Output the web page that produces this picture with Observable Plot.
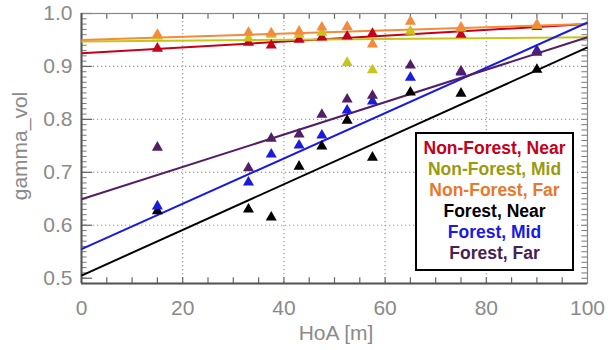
<!DOCTYPE html>
<html><head><meta charset="utf-8">
<script src="https://cdn.jsdelivr.net/npm/d3@7"></script>
<script src="https://cdn.jsdelivr.net/npm/@observablehq/plot@0.6"></script>
<style>
body{margin:0;background:#fff;}
#wrap{position:relative;width:608px;height:350px;}
#legend{position:absolute;left:415px;top:132px;width:155px;height:131px;border:2px solid #000;background:#fff;
font-family:"Liberation Sans",Arial,sans-serif;font-weight:bold;font-size:17.5px;text-align:center;line-height:21px;padding-top:4px;box-sizing:content-box;white-space:nowrap;}
</style></head>
<body><div id="wrap"><div id="legend"></div></div>
<script>
const hoa = [15, 33, 37.5, 43, 47.5, 52.5, 57.5, 65, 75, 90];
const seriesNames = ["Non-Forest, Near","Non-Forest, Mid","Non-Forest, Far","Forest, Near","Forest, Mid","Forest, Far"];
const seriesColors = ["#c4001a","#c8c418","#f58a3a","#000000","#1a1ae0","#521f66"];
const legendColors = ["#c4001a","#9a9a10","#e8782a","#000000","#1a1ae0","#452255"];
const nfNear = [0.934,0.945,0.940,0.951,0.955,0.957,0.962,0.965,0.960,0.975];
const nfMid  = [0.957,0.953,0.960,0.960,0.964,0.907,0.893,0.966,0.972,0.977];
const nfFar  = [0.960,0.964,0.963,0.966,0.974,0.975,0.942,0.985,0.974,0.979];
const fNear  = [0.627,0.630,0.615,0.711,0.749,0.798,0.728,0.851,0.849,0.894];
const fMid   = [0.636,0.681,0.734,0.751,0.770,0.817,0.834,0.879,0.889,0.930];
const fFar   = [0.747,0.708,0.764,0.772,0.809,0.838,0.845,0.902,0.891,0.926];
const fitAt0   = [0.925,0.947,0.950,0.505,0.555,0.649];
const fitAt100 = [0.980,0.955,0.980,0.936,0.983,0.955];
const xTicks = [0,20,40,60,80,100];
const yTicks = [0.5,0.6,0.7,0.8,0.9,1.0];

const allSeries = [nfNear,nfMid,nfFar,fNear,fMid,fFar];
const points = [];
allSeries.forEach((vals,si)=>vals.forEach((v,i)=>points.push({x:hoa[i],y:v,s:si})));
const fits = seriesNames.map((n,si)=>({s:si,x1:0,y1:fitAt0[si],x2:100,y2:fitAt100[si]}));

const gray = "#8a8a8a";
const font = "Liberation Sans, Arial, sans-serif";
const yLo = 0.49, yHi = 1.0, xLo = 0, xHi = 100;
const minorY = d3.range(50,100).map(d=>d/100);
const minorX = d3.range(5,100,5);
const tx = 1.1;     // tick length in x units
const ty = 0.011;   // tick length in y units

const chart = Plot.plot({
  width:608, height:350,
  marginLeft:81, marginRight:21, marginTop:13, marginBottom:67,
  style:{fontFamily:font, background:"#fff"},
  x:{domain:[xLo,xHi]},
  y:{domain:[yLo,yHi]},
  color:{domain:d3.range(6), range:seriesColors},
  marks:[
    Plot.ruleX([20,40,60,80],{stroke:"#999",strokeDasharray:"1.2,2.8",strokeWidth:1.2}),
    Plot.ruleY([0.6,0.7,0.8,0.9],{stroke:"#999",strokeDasharray:"1.2,2.8",strokeWidth:1.2}),
    // inward minor ticks
    Plot.ruleX(minorX,{y1:yLo,y2:yLo+ty,stroke:"#666",strokeWidth:1.2}),
    Plot.ruleX(minorX,{y1:yHi,y2:yHi-ty,stroke:"#666",strokeWidth:1.2}),
    Plot.ruleY(minorY,{x1:xLo,x2:xLo+tx,stroke:"#777",strokeWidth:1}),
    Plot.ruleY(minorY,{x1:xHi,x2:xHi-tx,stroke:"#777",strokeWidth:1}),
    Plot.ruleY(yTicks,{x1:xLo,x2:xLo+2*tx,stroke:"#666",strokeWidth:1.2}),
    Plot.axisY({anchor:"left",ticks:yTicks,tickSize:0,tickFormat:d3.format(".1f"),tickPadding:9,fontSize:21,fill:gray,label:null}),
    Plot.axisX({anchor:"bottom",ticks:xTicks,tickSize:0,tickPadding:17,fontSize:21,fill:gray,label:null}),
    Plot.frame({stroke:"#888",strokeWidth:1.2}),
    Plot.ruleX([xLo],{stroke:"#555",strokeWidth:2}),
    Plot.ruleY([yLo],{stroke:"#555",strokeWidth:2}),
    Plot.link(fits,{x1:"x1",y1:"y1",x2:"x2",y2:"y2",stroke:"s",strokeWidth:2}),
    Plot.dot(points,{x:"x",y:"y",symbol:"triangle",r:4.1,fill:"s",stroke:"none"})
  ]
});
document.getElementById("wrap").prepend(chart);
const svg = d3.select(chart);
svg.append("text").attr("transform","translate(21,146) rotate(-90)").attr("text-anchor","middle")
  .attr("dominant-baseline","middle").attr("fill",gray).attr("font-size",21).attr("font-family",font).text("gamma_vol");
svg.append("text").attr("x",336).attr("y",340).attr("text-anchor","middle")
  .attr("fill",gray).attr("font-size",21).attr("font-family",font).text("HoA [m]");
const lg = document.getElementById("legend");
seriesNames.forEach((n,i)=>{const d=document.createElement("div");d.textContent=n;d.style.color=legendColors[i];lg.appendChild(d);});
</script>
</body></html>
